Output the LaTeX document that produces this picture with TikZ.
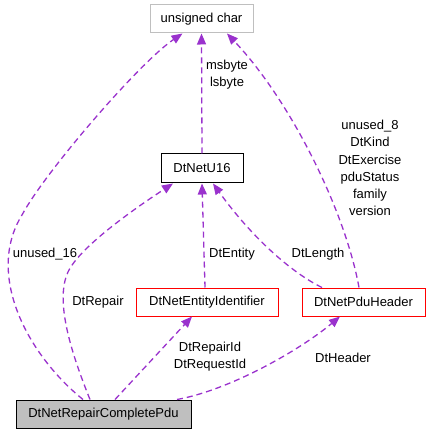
\documentclass[tikz,border=0pt]{standalone}
\usepackage{fontspec}
\setmainfont{Liberation Sans}
\usetikzlibrary{arrows.meta}
\definecolor{edgec}{HTML}{9A32CD}
\definecolor{boxgray}{HTML}{BFBFBF}
\begin{document}
\begin{tikzpicture}[x=1pt,y=-1pt,
  every node/.style={font=\fontsize{13}{17.2}\selectfont},
  cls/.style={draw,line width=1pt,inner sep=0pt,minimum height=28pt},
  redbox/.style={cls,draw=red},
  graybox/.style={cls,draw=boxgray},
  mainbox/.style={cls,draw=black,fill=boxgray},
  plainbox/.style={cls,draw=black},
  dep/.style={draw=edgec,line width=1.3pt,dash pattern=on 6pt off 4pt,
    -{Triangle[length=11pt,width=9pt,fill=edgec]}},
  lbl/.style={align=center,inner sep=0pt}]
\useasboundingbox (0,0) rectangle (430,435);
\node[graybox,minimum width=103pt] (uc) at (201.5,19) {unsigned char};
\node[plainbox,minimum width=82pt,minimum height=29pt] (u16) at (202,168.5) {DtNetU16};
\node[redbox,minimum width=142pt] (ent) at (207,302) {DtNetEntityIdentifier};
\node[redbox,minimum width=123pt] (hdr) at (363.5,302) {DtNetPduHeader};
\node[mainbox,minimum width=175pt] (pdu) at (103.5,414) {DtNetRepairCompletePdu};

% unused_16
\draw[dep] ([xshift=-20.5pt]pdu.north) .. controls (28,355) and (-15,275) .. (22,215)
  .. controls (45,172) and (140,62) .. ([xshift=-19pt]uc.south);
% DtRepair
\draw[dep] ([xshift=-13.5pt]pdu.north) .. controls (70,350) and (55,300) .. (68,272)
  .. controls (80,246) and (140,205) .. ([xshift=-29pt]u16.south);
% DtEntity
\draw[dep] ([xshift=-2pt]ent.north) -- (u16.south);
% DtLength
\draw[dep] ([xshift=-41.5pt]hdr.north) .. controls (290,272) and (250,235) .. ([xshift=11pt]u16.south);
% header fields
\draw[dep] ([xshift=-4.5pt]hdr.north) .. controls (345,210) and (290,100) .. ([xshift=25.5pt]uc.south);
% msbyte lsbyte
\draw[dep] (u16.north) -- (uc.south);
% DtRepairId DtRequestId
\draw[dep] ([xshift=11.5pt]pdu.north) -- ([xshift=-15pt]ent.south);
% DtHeader
\draw[dep] ([xshift=73.5pt]pdu.north) .. controls (230,390) and (300,350) .. ([xshift=-23.5pt]hdr.south);

\node[lbl] (l1) at (45,254) {unused\_16};
\node[lbl] (l2) at (98,302) {DtRepair};
\node[lbl] (l3) at (232,254) {DtEntity};
\node[lbl] (l4) at (318,254) {DtLength};
\node[lbl] (l5) at (227,75) {msbyte\\lsbyte};
\node[lbl] (l6) at (370,168) {unused\_8\\DtKind\\DtExercise\\pduStatus\\family\\version};
\node[lbl] (l7) at (210,357) {DtRepairId\\DtRequestId};
\node[lbl] (l8) at (343,358) {DtHeader};
\end{tikzpicture}
\end{document}
